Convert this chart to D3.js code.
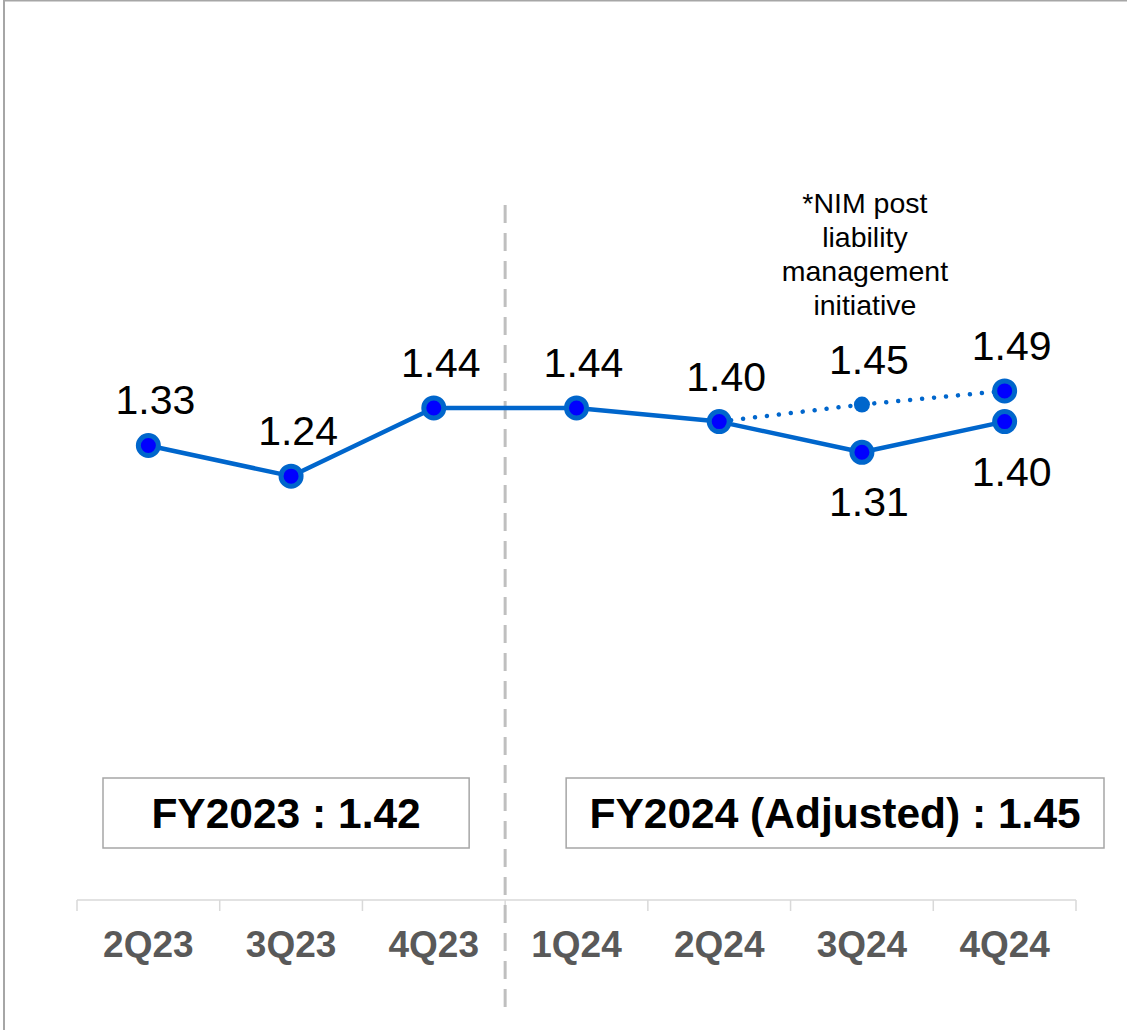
<!DOCTYPE html>
<html>
<head>
<meta charset="utf-8">
<script src="https://cdn.jsdelivr.net/npm/d3@7"></script>
<style>
  html, body { margin: 0; padding: 0; background: #fff; }
  svg { display: block; font-family: "Liberation Sans", Arial, sans-serif; }
</style>
</head>
<body>
<svg id="chart" width="1127" height="1030"></svg>
<script>
// Quarterly net interest margin (%)
const quarters = ["2Q23", "3Q23", "4Q23", "1Q24", "2Q24", "3Q24", "4Q24"];
const nim = [1.33, 1.24, 1.44, 1.44, 1.40, 1.31, 1.40];

// NIM after the liability management initiative
const adjustedQuarters = ["2Q24", "3Q24", "4Q24"];
const adjustedNim = [1.40, 1.45, 1.49];

// Quarters whose reported value is labelled under the point
const labelBelow = ["3Q24", "4Q24"];

const noteLines = ["*NIM post", "liability", "management", "initiative"];
const fyLabels = ["FY2023 : 1.42", "FY2024 (Adjusted) : 1.45"];

const W = 1127, H = 1030;
const axisY = 900;
const svg = d3.select("#chart");

const x = d3.scaleBand().domain(quarters).range([77, 1076]).padding(0);
const cx = q => x(q) + x.bandwidth() / 2;
const y = d3.scaleLinear().domain([0, 2.6]).range([899, 899 - 2.6 * 341]);

const lineBlue = "#0066cc";
const dotBlue = "#0000ff";

// frame
svg.append("line").attr("x1", 4).attr("x2", 4).attr("y1", 0).attr("y2", H)
  .attr("stroke", "#a6a6a6").attr("stroke-width", 2);
svg.append("line").attr("x1", 3).attr("x2", W).attr("y1", 0.75).attr("y2", 0.75)
  .attr("stroke", "#a6a6a6").attr("stroke-width", 1.5);

// category axis
svg.append("line").attr("x1", x.range()[0]).attr("x2", x.range()[1])
  .attr("y1", axisY).attr("y2", axisY)
  .attr("stroke", "#d9d9d9").attr("stroke-width", 1.5);
const bounds = quarters.map(q => x(q)).concat([x.range()[1]]);
svg.append("g").selectAll("line").data(bounds).join("line")
  .attr("x1", d => d).attr("x2", d => d)
  .attr("y1", axisY).attr("y2", axisY + 11)
  .attr("stroke", "#d9d9d9").attr("stroke-width", 1.5);
svg.append("g").selectAll("text").data(quarters).join("text")
  .attr("x", d => cx(d)).attr("y", 957)
  .attr("text-anchor", "middle")
  .attr("font-size", 37).attr("font-weight", "bold").attr("fill", "#595959")
  .text(d => d);

// fiscal year divider
const divX = x("1Q24");
svg.append("line").attr("x1", divX).attr("x2", divX)
  .attr("y1", 205).attr("y2", 1010)
  .attr("stroke", "#bfbfbf").attr("stroke-width", 3)
  .attr("stroke-dasharray", "18 10");

// fiscal year summary boxes
const boxes = [
  { x0: x("2Q23") + 26, x1: x("1Q24") - 36 },
  { x0: x("1Q24") + 61, x1: x.range()[1] + 28 }
];
const boxG = svg.append("g").selectAll("g").data(fyLabels).join("g");
boxG.append("rect")
  .attr("x", (d, i) => boxes[i].x0).attr("y", 778)
  .attr("width", (d, i) => boxes[i].x1 - boxes[i].x0).attr("height", 70)
  .attr("fill", "#fff").attr("stroke", "#a6a6a6").attr("stroke-width", 1.5);
boxG.append("text")
  .attr("x", (d, i) => (boxes[i].x0 + boxes[i].x1) / 2).attr("y", 828)
  .attr("text-anchor", "middle")
  .attr("font-size", 42.5).attr("font-weight", "bold").attr("fill", "#000")
  .text(d => d);

// adjusted series (dotted)
const adjPts = adjustedQuarters.map((q, i) => ({ q, v: adjustedNim[i] }));
svg.append("path").datum(adjPts)
  .attr("d", d3.line().x(d => cx(d.q)).y(d => y(d.v)))
  .attr("fill", "none").attr("stroke", lineBlue).attr("stroke-width", 4.5)
  .attr("stroke-linecap", "round").attr("stroke-dasharray", "0.01 12");

// reported series
const pts = quarters.map((q, i) => ({ q, v: nim[i] }));
svg.append("path").datum(pts)
  .attr("d", d3.line().x(d => cx(d.q)).y(d => y(d.v)))
  .attr("fill", "none").attr("stroke", lineBlue).attr("stroke-width", 4.5)
  .attr("stroke-linejoin", "round");

svg.append("g").selectAll("circle").data(pts).join("circle")
  .attr("cx", d => cx(d.q)).attr("cy", d => y(d.v)).attr("r", 10)
  .attr("fill", dotBlue).attr("stroke", lineBlue).attr("stroke-width", 5);

// adjusted markers: the final quarter uses the full marker, the middle one a plain dot
const lastAdj = adjustedQuarters[adjustedQuarters.length - 1];
svg.append("g").selectAll("circle").data(adjPts.slice(1)).join("circle")
  .attr("cx", d => cx(d.q)).attr("cy", d => y(d.v))
  .attr("r", d => d.q === lastAdj ? 10 : 8)
  .attr("fill", d => d.q === lastAdj ? dotBlue : lineBlue)
  .attr("stroke", lineBlue).attr("stroke-width", d => d.q === lastAdj ? 5 : 0);

// value labels
const labelFont = 41;
svg.append("g").selectAll("text").data(pts).join("text")
  .attr("x", d => cx(d.q) + 7)
  .attr("y", d => labelBelow.includes(d.q) ? y(d.v) + 64 : y(d.v) - 31)
  .attr("text-anchor", "middle").attr("font-size", labelFont).attr("fill", "#000")
  .text(d => d.v.toFixed(2));
svg.append("g").selectAll("text").data(adjPts.slice(1)).join("text")
  .attr("x", d => cx(d.q) + 7)
  .attr("y", d => y(d.v) - 31)
  .attr("text-anchor", "middle").attr("font-size", labelFont).attr("fill", "#000")
  .text(d => d.v.toFixed(2));

// footnote for the adjusted series
svg.append("g").selectAll("text").data(noteLines).join("text")
  .attr("x", cx("3Q24") + 3).attr("y", (d, i) => 213 + i * 34)
  .attr("text-anchor", "middle").attr("font-size", 28.5).attr("fill", "#000")
  .text(d => d);
</script>
</body>
</html>
